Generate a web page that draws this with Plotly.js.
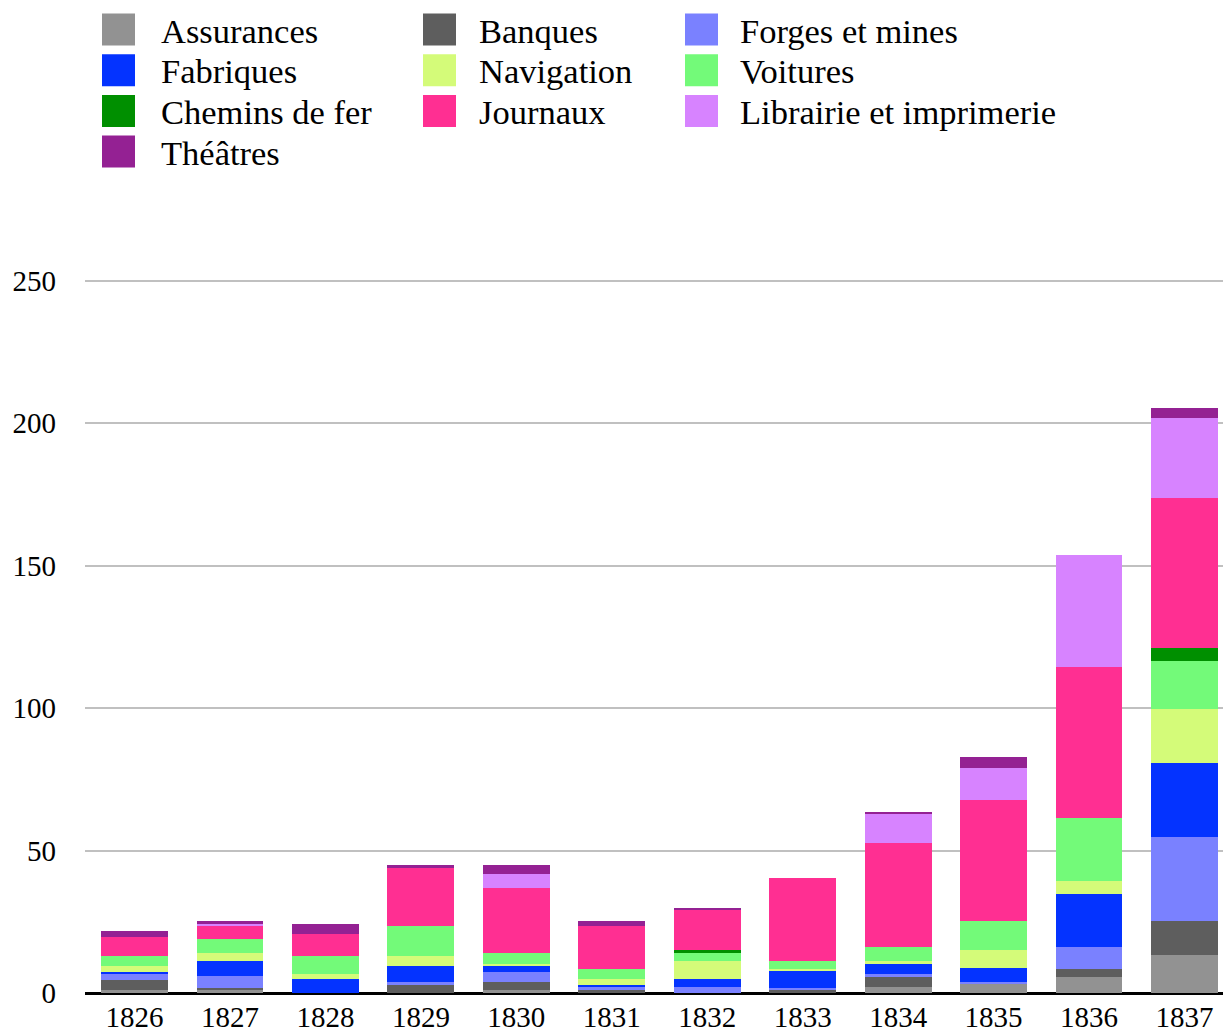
<!DOCTYPE html>
<html>
<head>
<meta charset="utf-8">
<script src="https://cdn.plot.ly/plotly-3.0.1.min.js"></script>
<style>
html,body{margin:0;padding:0;background:#fff;}
#chart{width:1223px;height:1032px;}
</style>
</head>
<body>
<div id="chart"></div>
<script>
// ---- data ----
const years = ['1826','1827','1828','1829','1830','1831','1832','1833','1834','1835','1836','1837'];

const assurances = [1.2, 1.2, 0,   0,    1.2, 0,    0,    0,    2.2,  3.0,  5.7,  13.5];
const banques    = [3.5, 0.7, 0,   2.9,  2.8, 1.2,  0,    1.05, 3.5,  0,    2.8,  11.9];
const forges     = [2.1, 3.9, 0,   1.05, 3.5, 0.8,  2.1,  0.6,  1.05, 0.95, 7.7,  29.3];
const fabriques  = [0.7, 5.6, 5.0, 5.6,  2.1, 0.95, 2.8,  6.1,  3.5,  4.7,  18.7, 25.9];
const navigation = [2.1, 2.8, 1.8, 3.5,  0.7, 2.1,  6.3,  0.7,  1.05, 6.55, 4.45, 19.0];
const voitures   = [3.5, 4.9, 6.3, 10.5, 3.9, 3.5,  2.8,  2.8,  4.9,  10.2, 21.9, 16.8];
const chemins    = [0,   0,   0,   0,    0,   0,    1.05, 0,    0,    0,    0,    4.7];
const journaux   = [6.7, 4.45,7.7, 20.4, 22.5,15.1, 14.0, 29.1, 36.5, 42.3, 53.3, 52.7];
const librairie  = [0,   0.8, 0,   0,    4.9, 0,    0,    0,    10.2, 11.2, 39.3, 28.1];
const theatres   = [2.1, 1.05,3.5, 1.05, 3.5, 1.75, 0.7,  0,    0.7,  3.9,  0,    3.5];

const seriesNames  = ['Assurances','Banques','Forges et mines','Fabriques','Navigation','Voitures','Chemins de fer','Journaux','Librairie et imprimerie','Théâtres'];
const seriesValues = [assurances, banques, forges, fabriques, navigation, voitures, chemins, journaux, librairie, theatres];
const seriesColors = ['#929292','#5e5e5e','#7a81ff','#0433ff','#d4fb79','#73fa79','#008f00','#ff2f92','#d783ff','#942193'];

const yTicks = [0, 50, 100, 150, 200, 250];

// ---- geometry ----
const W = 1223, H = 1032;
const ml = 85, mr = 0, mt = 275, mb = 39;
const plotW = W - ml - mr, plotH = H - mt - mb;
const FONT = 'Liberation Serif, Times New Roman, serif';

const traces = seriesNames.map((name, i) => ({
  type: 'bar',
  name: name,
  x: years.map((_, k) => k),
  y: seriesValues[i],
  marker: {color: seriesColors[i], line: {width: 0}},
  hoverinfo: 'skip',
  showlegend: false
}));

// custom legend (swatch + label), laid out in 3 columns row-major
const colSwatchX = [102, 423, 685];
const colTextX = [159, 477, 738];
const rowY0 = 29.5, rowStep = 40.7, sw = 32;
const px2x = p => (p - ml) / plotW;
const py2y = p => (H - mb - p) / plotH;
const shapes = [], annotations = [];
seriesNames.forEach((name, i) => {
  const c = i % 3, r = Math.floor(i / 3);
  const cy = rowY0 + r * rowStep;
  shapes.push({
    type: 'rect', xref: 'paper', yref: 'paper',
    x0: px2x(colSwatchX[c]), x1: px2x(colSwatchX[c] + sw + 1),
    y0: py2y(cy + sw / 2), y1: py2y(cy - sw / 2),
    fillcolor: seriesColors[i], line: {width: 0}
  });
  annotations.push({
    xref: 'paper', yref: 'paper',
    x: px2x(colTextX[c]), y: py2y(cy + 1),
    xanchor: 'left', yanchor: 'middle',
    text: name, showarrow: false,
    font: {family: FONT, size: 34.5, color: '#000'}
  });
});

const layout = {
  width: W, height: H,
  margin: {l: ml, r: mr, t: mt, b: mb, pad: 0},
  paper_bgcolor: '#fff', plot_bgcolor: '#fff',
  barmode: 'stack',
  bargap: 0.3,
  showlegend: false,
  font: {family: FONT, size: 29, color: '#000'},
  xaxis: {
    type: 'linear',
    range: [-0.519, 11.403],
    tickmode: 'array',
    tickvals: years.map((_, k) => k),
    ticktext: years,
    showgrid: false,
    zeroline: false,
    showline: false,
    ticks: '',
    ticklabelstandoff: 4,
    tickfont: {family: FONT, size: 29, color: '#000'},
    fixedrange: true
  },
  yaxis: {
    range: [0, 252],
    tickmode: 'array',
    tickvals: yTicks,
    ticktext: yTicks.map(String),
    showgrid: true,
    gridcolor: '#c0c0c0',
    gridwidth: 2,
    zeroline: true,
    zerolinecolor: '#000',
    zerolinewidth: 3,
    showline: false,
    ticks: '',
    ticklabelstandoff: 28,
    tickfont: {family: FONT, size: 29, color: '#000'},
    fixedrange: true
  },
  shapes: shapes,
  annotations: annotations
};

Plotly.newPlot('chart', traces, layout, {displayModeBar: false, staticPlot: true});
</script>
</body>
</html>
